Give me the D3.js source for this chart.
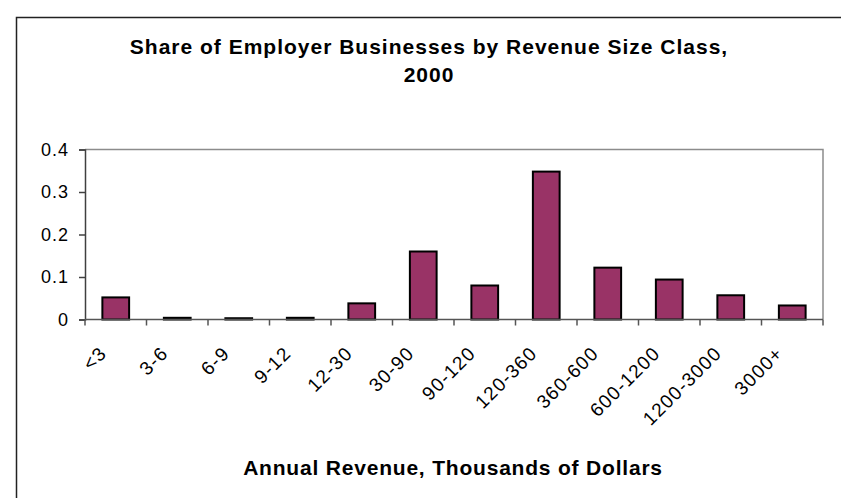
<!DOCTYPE html>
<html>
<head>
<meta charset="utf-8">
<script src="https://cdn.jsdelivr.net/npm/d3@7"></script>
<style>
  body { margin: 0; background: #fff; }
  svg { display: block; font-family: "Liberation Sans", Arial, sans-serif; }
</style>
</head>
<body>
<svg width="841" height="498"></svg>
<script>
var categories = ["<3", "3-6", "6-9", "9-12", "12-30", "30-90", "90-120", "120-360", "360-600", "600-1200", "1200-3000", "3000+"];
var shares = [0.052, 0.004, 0.003, 0.004, 0.038, 0.160, 0.080, 0.348, 0.122, 0.094, 0.057, 0.033];
var yTicks = [0, 0.1, 0.2, 0.3, 0.4];
var titleLines = ["Share of Employer Businesses by Revenue Size Class,", "2000"];
var xTitle = "Annual Revenue, Thousands of Dollars";

var svg = d3.select("svg");

var plot = { left: 85, right: 823, top: 149.5, bottom: 319.5 };

var x = d3.scaleBand()
    .domain(categories)
    .range([plot.left, plot.right]);

var y = d3.scaleLinear()
    .domain([0, 0.4])
    .range([plot.bottom, plot.top]);

// outer chart frame (only top and left edges are visible)
svg.append("path")
    .attr("d", "M16.5,498V17.5H841")
    .attr("fill", "none")
    .attr("stroke", "#222")
    .attr("stroke-width", 1.5);

// plot area border, top and right
svg.append("path")
    .attr("d", "M" + plot.left + "," + plot.top + "H" + plot.right + "V" + plot.bottom)
    .attr("fill", "none")
    .attr("stroke", "#8c8c8c")
    .attr("stroke-width", 1.5);

// title
svg.append("text")
    .attr("x", 429)
    .attr("y", 54)
    .attr("text-anchor", "middle")
    .style("font-size", "21px")
    .style("font-weight", "bold")
    .style("letter-spacing", "1px")
    .selectAll("tspan")
    .data(titleLines)
    .enter().append("tspan")
    .attr("x", 429)
    .attr("dy", function (d, i) { return i ? 28 : 0; })
    .text(function (d) { return d; });

// bars
var barW = x.bandwidth() / 2.3;
svg.append("g")
    .selectAll("rect")
    .data(shares)
    .enter().append("rect")
    .attr("x", function (d, i) { return x(categories[i]) + (x.bandwidth() - barW) / 2; })
    .attr("y", function (d) { return y(d); })
    .attr("width", barW)
    .attr("height", function (d) { return y(0) - y(d); })
    .attr("fill", "#993366")
    .attr("stroke", "#000")
    .attr("stroke-width", 2);

// y axis
var yAxis = svg.append("g")
    .attr("transform", "translate(" + plot.left + ",0)")
    .call(d3.axisLeft(y)
        .tickValues(yTicks)
        .tickSize(6)
        .tickPadding(10)
        .tickFormat(function (d) { return d === 0 ? "0" : d.toFixed(1); }));
yAxis.select(".domain").attr("stroke", "#404040").attr("stroke-width", 1.5);
yAxis.selectAll(".tick line").attr("stroke", "#404040").attr("stroke-width", 1.5);
yAxis.selectAll(".tick text")
    .style("font-size", "18px")
    .style("letter-spacing", "1px")
    .attr("fill", "#000");

// x axis, ticks on band boundaries
var xAxis = svg.append("g")
    .attr("transform", "translate(0," + plot.bottom + ")");
xAxis.append("line")
    .attr("x1", plot.left).attr("x2", plot.right)
    .attr("stroke", "#555").attr("stroke-width", 1.5);
xAxis.selectAll(".edge")
    .data(categories.concat([null]))
    .enter().append("line")
    .attr("class", "edge")
    .attr("x1", function (d, i) { return plot.left + i * x.step(); })
    .attr("x2", function (d, i) { return plot.left + i * x.step(); })
    .attr("y1", 0).attr("y2", 6)
    .attr("stroke", "#555").attr("stroke-width", 1.5);
xAxis.selectAll(".lbl")
    .data(categories)
    .enter().append("text")
    .attr("class", "lbl")
    .attr("transform", function (d) {
        return "translate(" + (x(d) + x.bandwidth() / 2 - 8) + ",35) rotate(-45)";
    })
    .attr("text-anchor", "end")
    .style("font-size", "19px")
    .style("letter-spacing", "1.2px")
    .text(function (d) { return d; });

// x axis title
svg.append("text")
    .attr("x", 453)
    .attr("y", 475)
    .attr("text-anchor", "middle")
    .style("font-size", "21px")
    .style("font-weight", "bold")
    .style("letter-spacing", "0.8px")
    .text(xTitle);
</script>
</body>
</html>
